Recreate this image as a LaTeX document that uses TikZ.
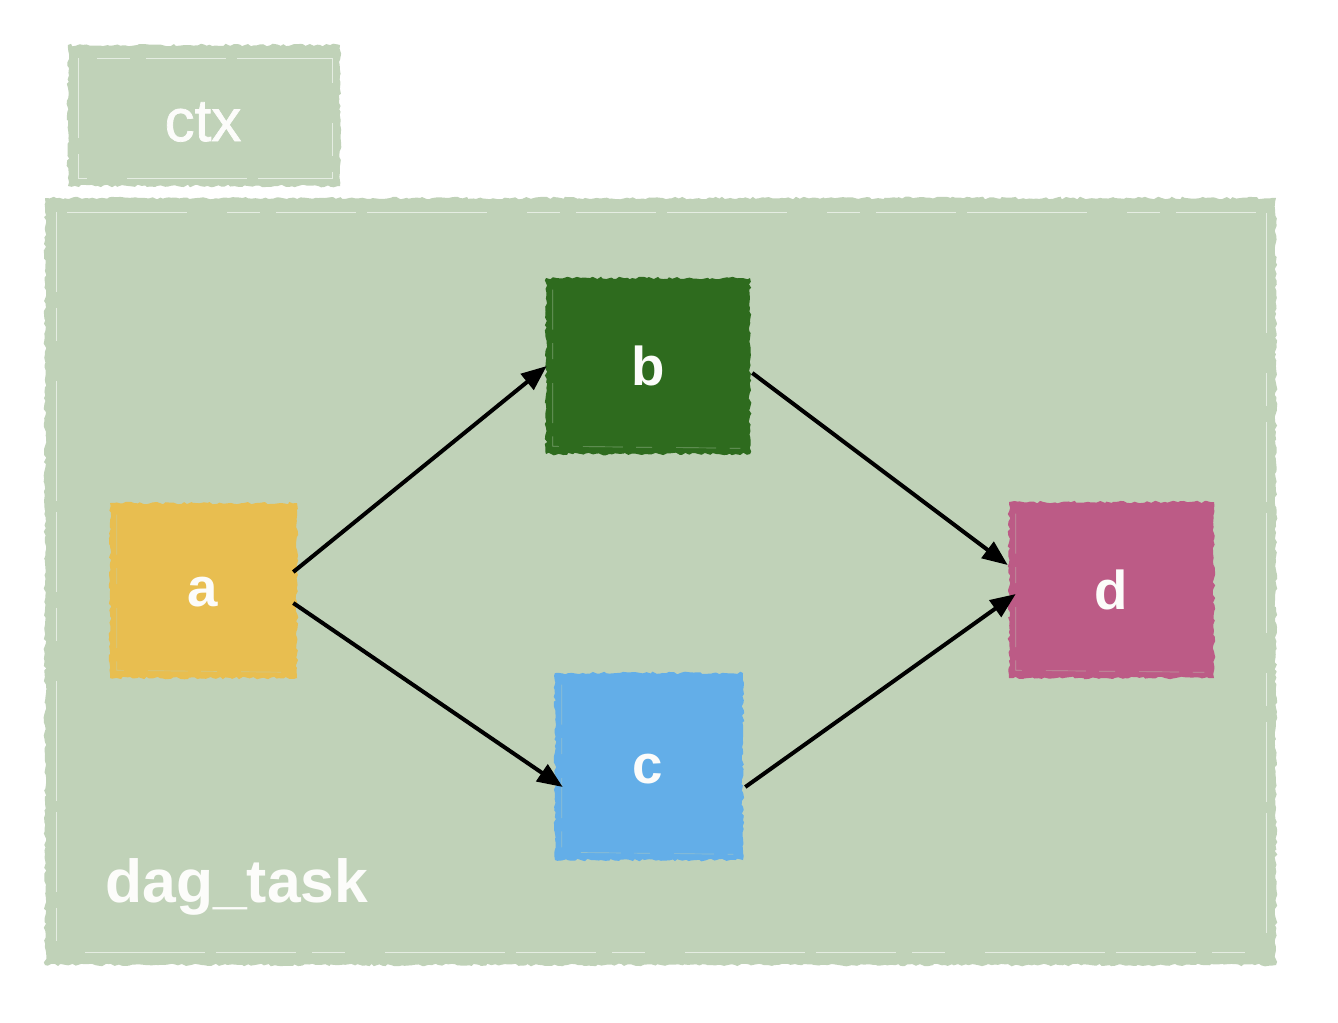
\documentclass[tikz,border=0pt]{standalone}
\usepackage{fontspec}
\setmainfont{Liberation Sans}
\newfontfamily\medfont[FakeBold=1.2]{Liberation Sans}
\usetikzlibrary{arrows.meta,calc,decorations.pathmorphing}
\definecolor{bgg}{HTML}{C0D2B8}
\definecolor{cola}{HTML}{E8BE50}
\definecolor{colb}{HTML}{2E6B1E}
\definecolor{colc}{HTML}{63AEE8}
\definecolor{cold}{HTML}{BC5B86}
\definecolor{txt}{HTML}{FCFCFA}
\tikzset{
  rough/.style={decorate,decoration={random steps,segment length=2.5pt,amplitude=1pt}},
  box/.style={rough,inner sep=0pt},
  lab/.style={text=txt,font=\fontsize{41}{49}\selectfont\bfseries},
  edge/.style={line width=3pt,-{Triangle[length=19pt,width=15pt]}},
  streak/.style={draw=white,line width=0.6pt,opacity=0.6,dash pattern=on 60pt off 12pt on 25pt off 30pt on 90pt off 8pt},
  nstreak/.style={draw=bgg,line width=0.5pt,opacity=0.5,dash pattern=on 30pt off 10pt on 12pt off 18pt}
}
\begin{document}
\begin{tikzpicture}[x=0.75pt,y=-0.75pt]
\pgfmathsetseed{42}
\useasboundingbox (0,0) rectangle (1338,1022);
% ctx box
\node[box,fill=bgg,minimum width=204pt,minimum height=105.75pt] (ctx) at (204,115.5) {};
\draw[streak] (78,58) rectangle (332,178);
\node[text=txt,font=\medfont\fontsize{45}{54}\selectfont] (ctxl) at (203,122) {ctx};
% big box
\node[box,fill=bgg,minimum width=923.25pt,minimum height=575.25pt] (big) at (660.5,581.5) {};
\draw[streak] (56,212) rectangle (1266,952);
\node[anchor=base west,inner sep=0pt,text=txt,font=\fontsize{45.5}{54}\selectfont\bfseries] (lbl) at (105,902) {dag\_task};
% task nodes
\node[box,fill=cola,minimum width=140.25pt,minimum height=131.25pt] (a) at (203.5,590.5) {};
\node[box,fill=colb,minimum width=153pt,minimum height=132pt] (b) at (648,366) {};
\node[box,fill=colc,minimum width=141pt,minimum height=140.25pt] (c) at (649,766.5) {};
\node[box,fill=cold,minimum width=153.75pt,minimum height=132pt] (d) at (1111.5,590) {};
\foreach \n in {a,b,c,d}{
  \draw[nstreak] ($(\n.north west)+(7,12)$) -- ($(\n.south west)+(7,-8)$) -- ($(\n.south east)+(-10,-6)$);
}
\node[lab] (at) at (203,592) {a};
\node[lab] (bt) at (648,366) {b};
\node[lab] (ct) at (648,769) {c};
\node[lab] (dt) at (1111,590) {d};
% edges
\draw[edge] ($(a.east)+(-4,-18.5)$) -- ($(b.west)+(1,0)$);
\draw[edge] ($(a.east)+(-4,12.5)$) -- ($(c.west)+(8,20.5)$);
\draw[edge] ($(b.east)+(2,7)$) -- ($(d.west)+(-1,-25)$);
\draw[edge] ($(c.east)+(2,20.5)$) -- ($(d.west)+(7,4)$);
\end{tikzpicture}
\end{document}
